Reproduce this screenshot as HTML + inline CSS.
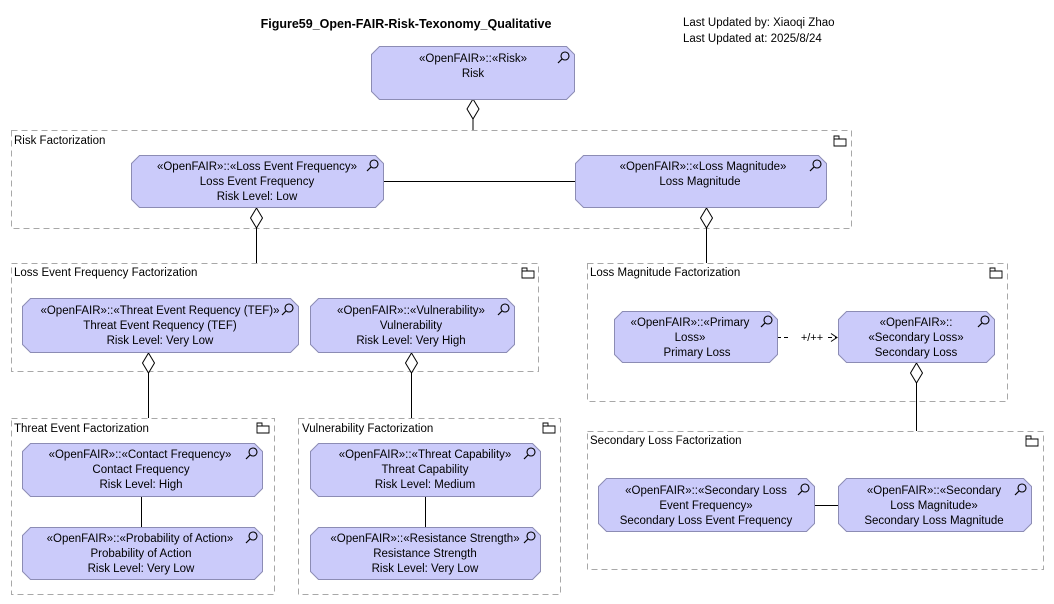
<!DOCTYPE html>
<html><head><meta charset="utf-8"><style>
html,body{margin:0;padding:0;background:#fff;}
svg{display:block;}
text{font-family:"Liberation Sans",sans-serif;font-size:11.5px;fill:#000;}
.n{fill:#cbcbfa;stroke:#8c8cb4;stroke-width:1;}
.f{fill:none;stroke:#a8a8a8;stroke-width:1;stroke-dasharray:6,4;}
.l{stroke:#000;stroke-width:1;fill:none;}
.d{fill:#fff;stroke:#000;stroke-width:1;}
</style></head><body>
<svg width="1054" height="604" viewBox="0 0 1054 604" xmlns="http://www.w3.org/2000/svg">
<defs>
<g id="mag"><circle cx="2" cy="-2" r="4" fill="none" stroke="#000" stroke-width="1.1"/><line x1="-1" y1="1" x2="-5" y2="5" stroke="#000" stroke-width="1.2"/></g>
<g id="fold"><path d="M0,3 h5 v-3 h-5 z M0,3 h12 v7 h-12 z" fill="#fff" stroke="#000" stroke-width="0.9"/></g>
</defs>
<text x="406" y="28" text-anchor="middle" style="font-weight:bold;font-size:12.5px">Figure59_Open-FAIR-Risk-Texonomy_Qualitative</text>
<text x="683" y="26">Last Updated by: Xiaoqi Zhao</text>
<text x="683" y="42">Last Updated at: 2025/8/24</text>

<!-- frames -->
<rect class="f" x="11.5" y="130.5" width="840" height="98"/>
<text x="14" y="144">Risk Factorization</text><use href="#fold" x="834" y="136"/>
<rect class="f" x="11.5" y="263.5" width="527" height="108"/>
<text x="14" y="276">Loss Event Frequency Factorization</text><use href="#fold" x="522" y="268"/>
<rect class="f" x="587.5" y="263.5" width="420" height="138"/>
<text x="590" y="276">Loss Magnitude Factorization</text><use href="#fold" x="990" y="268"/>
<rect class="f" x="11.5" y="418.5" width="263" height="176"/>
<text x="14" y="432">Threat Event Factorization</text><use href="#fold" x="257" y="423"/>
<rect class="f" x="298.5" y="418.5" width="262" height="176"/>
<text x="302" y="432">Vulnerability Factorization</text><use href="#fold" x="543" y="423"/>
<rect class="f" x="587.5" y="431.5" width="456" height="138"/>
<text x="590" y="444">Secondary Loss Factorization</text><use href="#fold" x="1026" y="436"/>

<!-- connectors -->
<line class="l" x1="473" y1="119" x2="473" y2="130"/>
<line class="l" x1="383" y1="181.5" x2="575" y2="181.5"/>
<line class="l" x1="256.5" y1="228" x2="256.5" y2="263"/>
<line class="l" x1="706.5" y1="228" x2="706.5" y2="263"/>
<line class="l" x1="148.5" y1="373" x2="148.5" y2="418"/>
<line class="l" x1="411.5" y1="373" x2="411.5" y2="418"/>
<line class="l" x1="916.5" y1="383" x2="916.5" y2="431"/>
<line class="l" x1="141.5" y1="496" x2="141.5" y2="527"/>
<line class="l" x1="425.5" y1="496" x2="425.5" y2="527"/>
<line class="l" x1="814" y1="505.5" x2="838" y2="505.5"/>
<line class="l" x1="777" y1="337.5" x2="790" y2="337.5" stroke-dasharray="4,3"/>
<text x="812" y="341" text-anchor="middle" style="font-size:11px">+/++</text>
<line class="l" x1="828" y1="337.5" x2="837" y2="337.5" stroke-dasharray="4,3"/>
<path class="l" d="M831,333.5 L837,337.5 L831,341.5"/>

<!-- diamonds -->
<path class="d" d="M473,99 L479,109 L473,119 L467,109 Z"/>
<path class="d" d="M256.5,208 L262.5,218 L256.5,228 L250.5,218 Z"/>
<path class="d" d="M706.5,208 L712.5,218 L706.5,228 L700.5,218 Z"/>
<path class="d" d="M148.5,353 L154.5,363 L148.5,373 L142.5,363 Z"/>
<path class="d" d="M411.5,353 L417.5,363 L411.5,373 L405.5,363 Z"/>
<path class="d" d="M916.5,363 L922.5,373 L916.5,383 L910.5,373 Z"/>

<!-- nodes -->
<g>
<polygon class="n" points="379.5,46.5 566.5,46.5 574.5,54.5 574.5,91.5 566.5,99.5 379.5,99.5 371.5,91.5 371.5,54.5"/>
<text x="473" y="62" text-anchor="middle">«OpenFAIR»::«Risk»</text><text x="473" y="77" text-anchor="middle">Risk</text><use href="#mag" x="563" y="58"/>

<polygon class="n" points="139.5,155.5 375.5,155.5 383.5,163.5 383.5,199.5 375.5,207.5 139.5,207.5 131.5,199.5 131.5,163.5"/>
<text x="257" y="170" text-anchor="middle">«OpenFAIR»::«Loss Event Frequency»</text><text x="257" y="185" text-anchor="middle">Loss Event Frequency</text><text x="257" y="200" text-anchor="middle">Risk Level: Low</text><use href="#mag" x="372" y="166"/>

<polygon class="n" points="583.5,155.5 818.5,155.5 826.5,163.5 826.5,199.5 818.5,207.5 583.5,207.5 575.5,199.5 575.5,163.5"/>
<text x="703" y="170" text-anchor="middle">«OpenFAIR»::«Loss Magnitude»</text><text x="700" y="185" text-anchor="middle">Loss Magnitude</text><use href="#mag" x="815" y="166"/>

<polygon class="n" points="30.5,298.5 290.5,298.5 298.5,306.5 298.5,344.5 290.5,352.5 30.5,352.5 22.5,344.5 22.5,306.5"/>
<text x="160" y="314" text-anchor="middle">«OpenFAIR»::«Threat Event Requency (TEF)»</text><text x="160" y="329" text-anchor="middle">Threat Event Requency (TEF)</text><text x="160" y="344" text-anchor="middle">Risk Level: Very Low</text><use href="#mag" x="287" y="310"/>

<polygon class="n" points="318.5,298.5 506.5,298.5 514.5,306.5 514.5,344.5 506.5,352.5 318.5,352.5 310.5,344.5 310.5,306.5"/>
<text x="411" y="314" text-anchor="middle">«OpenFAIR»::«Vulnerability»</text><text x="411" y="329" text-anchor="middle">Vulnerability</text><text x="411" y="344" text-anchor="middle">Risk Level: Very High</text><use href="#mag" x="503" y="310"/>

<polygon class="n" points="622.5,311.5 769.5,311.5 777.5,319.5 777.5,354.5 769.5,362.5 622.5,362.5 614.5,354.5 614.5,319.5"/>
<text x="690" y="326" text-anchor="middle">«OpenFAIR»::«Primary</text><text x="690" y="341" text-anchor="middle">Loss»</text><text x="697" y="356" text-anchor="middle">Primary Loss</text><use href="#mag" x="766" y="322"/>

<polygon class="n" points="846.5,311.5 986.5,311.5 994.5,319.5 994.5,354.5 986.5,362.5 846.5,362.5 838.5,354.5 838.5,319.5"/>
<text x="916" y="326" text-anchor="middle">«OpenFAIR»::</text><text x="916" y="341" text-anchor="middle">«Secondary Loss»</text><text x="916" y="356" text-anchor="middle">Secondary Loss</text><use href="#mag" x="983" y="322"/>

<polygon class="n" points="30.5,443.5 254.5,443.5 262.5,451.5 262.5,488.5 254.5,496.5 30.5,496.5 22.5,488.5 22.5,451.5"/>
<text x="140" y="458" text-anchor="middle">«OpenFAIR»::«Contact Frequency»</text><text x="141" y="473" text-anchor="middle">Contact Frequency</text><text x="141" y="488" text-anchor="middle">Risk Level: High</text><use href="#mag" x="251" y="454"/>

<polygon class="n" points="30.5,527.5 254.5,527.5 262.5,535.5 262.5,571.5 254.5,579.5 30.5,579.5 22.5,571.5 22.5,535.5"/>
<text x="140" y="542" text-anchor="middle">«OpenFAIR»::«Probability of Action»</text><text x="141" y="557" text-anchor="middle">Probability of Action</text><text x="141" y="572" text-anchor="middle">Risk Level: Very Low</text><use href="#mag" x="251" y="538"/>

<polygon class="n" points="318.5,443.5 532.5,443.5 540.5,451.5 540.5,488.5 532.5,496.5 318.5,496.5 310.5,488.5 310.5,451.5"/>
<text x="425" y="458" text-anchor="middle">«OpenFAIR»::«Threat Capability»</text><text x="425" y="473" text-anchor="middle">Threat Capability</text><text x="425" y="488" text-anchor="middle">Risk Level: Medium</text><use href="#mag" x="529" y="454"/>

<polygon class="n" points="318.5,527.5 532.5,527.5 540.5,535.5 540.5,571.5 532.5,579.5 318.5,579.5 310.5,571.5 310.5,535.5"/>
<text x="425" y="542" text-anchor="middle">«OpenFAIR»::«Resistance Strength»</text><text x="425" y="557" text-anchor="middle">Resistance Strength</text><text x="425" y="572" text-anchor="middle">Risk Level: Very Low</text><use href="#mag" x="529" y="538"/>

<polygon class="n" points="606.5,478.5 806.5,478.5 814.5,486.5 814.5,523.5 806.5,531.5 606.5,531.5 598.5,523.5 598.5,486.5"/>
<text x="706" y="494" text-anchor="middle">«OpenFAIR»::«Secondary Loss</text><text x="706" y="509" text-anchor="middle">Event Frequency»</text><text x="706" y="524" text-anchor="middle">Secondary Loss Event Frequency</text><use href="#mag" x="803" y="490"/>

<polygon class="n" points="846.5,478.5 1023.5,478.5 1031.5,486.5 1031.5,523.5 1023.5,531.5 846.5,531.5 838.5,523.5 838.5,486.5"/>
<text x="934" y="494" text-anchor="middle">«OpenFAIR»::«Secondary</text><text x="934" y="509" text-anchor="middle">Loss Magnitude»</text><text x="934" y="524" text-anchor="middle">Secondary Loss Magnitude</text><use href="#mag" x="1020" y="490"/>
</g>
</svg>
</body></html>
